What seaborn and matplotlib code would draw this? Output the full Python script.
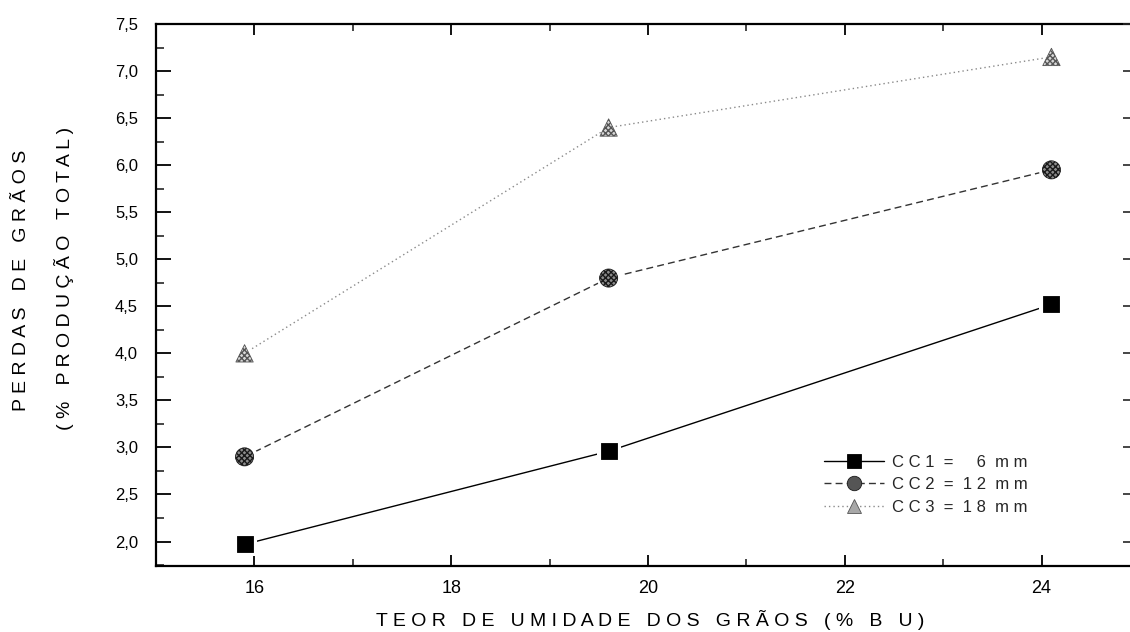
import matplotlib
matplotlib.use("Agg")
import matplotlib.pyplot as plt
import seaborn as sns
import pandas as pd
from matplotlib.ticker import MultipleLocator, FixedLocator, FuncFormatter
from matplotlib.lines import Line2D

# Grain moisture content (% wet basis) and grain losses (% of total yield)
umidade = [15.9, 19.6, 24.1]
cc1 = [1.97, 2.96, 4.52]
cc2 = [2.90, 4.80, 5.95]
cc3 = [4.00, 6.40, 7.15]
series_names = ["CC1", "CC2", "CC3"]
sieve_mm = ["6", "12", "18"]
x_ticks = [16, 18, 20, 22, 24]
y_ticks = [2.0, 2.5, 3.0, 3.5, 4.0, 4.5, 5.0, 5.5, 6.0, 6.5, 7.0, 7.5]
x_title = "TEOR DE UMIDADE DOS GRÃOS (% B U)"
y_title_1 = "PERDAS DE GRÃOS"
y_title_2 = "(% PRODUÇÃO TOTAL)"


def spaced(text, gap=1, word_gap=3):
    """Letter-spaced version of a caption."""
    return (" " * word_gap).join((" " * gap).join(w) for w in text.split(" "))


df = pd.DataFrame({
    "umidade": umidade * 3,
    "perdas": cc1 + cc2 + cc3,
    "serie": [s for s in series_names for _ in umidade],
})

sns.set_theme(style="ticks")
plt.rcParams["font.family"] = ["Liberation Sans", "DejaVu Sans"]

W, H = 1130, 632
fig = plt.figure(figsize=(W / 100, H / 100), dpi=100)
left, right, top, bottom = 156, 1140, 24, 566
ax = fig.add_axes([left / W, 1 - bottom / H, (right - left) / W, (bottom - top) / H])

styles = {
    "CC1": dict(color="black", ls="-", lw=1.0, marker="s", ms=12, face="black", hatch=None, leg_face="black"),
    "CC2": dict(color="#333333", ls=(0, (5, 3)), lw=1.0, marker="o", ms=13, face="#8c8c8c", hatch="xxxxxx", leg_face="#555555"),
    "CC3": dict(color="#8a8a8a", ls=(0, (1, 2.2)), lw=1.0, marker="^", ms=12.5, face="#d8d8d8", hatch="xxxxxx", leg_face="#a8a8a8"),
}
edge_cols = {"CC1": "black", "CC2": "#1a1a1a", "CC3": "#555555"}

handles = []
for name in series_names:
    st = styles[name]
    sub = df[df["serie"] == name]
    sns.lineplot(data=sub, x="umidade", y="perdas", ax=ax, color=st["color"],
                 linestyle=st["ls"], linewidth=st["lw"], legend=False, zorder=2)
    # white halo leaves a small gap between the line and the symbol
    ax.scatter(sub["umidade"], sub["perdas"], marker=st["marker"], s=(st["ms"] + 5) ** 2,
               color="white", linewidths=0, zorder=3)
    ax.scatter(sub["umidade"], sub["perdas"], marker=st["marker"], s=st["ms"] ** 2,
               facecolor=st["face"], edgecolor=edge_cols[name], hatch=st["hatch"],
               linewidths=0.6, zorder=4)
    handles.append(Line2D([], [], color=st["color"], linestyle=st["ls"], linewidth=st["lw"],
                          marker=st["marker"], markersize=st["ms"] * 0.8,
                          markerfacecolor=st["leg_face"], markeredgecolor=edge_cols[name],
                          markeredgewidth=0.6))

ax.set_xlim(15, 25)
ax.set_ylim(1.74, 7.5)
ax.xaxis.set_major_locator(FixedLocator(x_ticks))
ax.xaxis.set_minor_locator(MultipleLocator(1))
ax.yaxis.set_major_locator(FixedLocator(y_ticks))
ax.yaxis.set_minor_locator(MultipleLocator(0.25))
ax.yaxis.set_major_formatter(FuncFormatter(lambda v, p: f"{v:.1f}".replace(".", ",")))
ax.set_xlabel("")
ax.set_ylabel("")

for sp in ax.spines.values():
    sp.set_visible(True)
    sp.set_linewidth(1.6)
    sp.set_color("black")

ax.tick_params(axis="y", which="major", direction="in", length=11, width=1.3,
               labelsize=12, pad=13, colors="black", right=False)
ax.tick_params(axis="y", which="minor", direction="in", length=6, width=1.2, right=False)
ax.tick_params(axis="x", which="major", direction="in", length=8, width=1.3,
               labelsize=13, pad=10, colors="black", top=True)
ax.tick_params(axis="x", which="minor", direction="in", length=5, width=1.2, top=True)

# short inward ticks along the right edge
axr = ax.twinx()
axr.set_ylim(ax.get_ylim())
axr.yaxis.set_major_locator(MultipleLocator(0.5))
axr.tick_params(axis="y", direction="in", length=12, width=1.2, labelright=False)
for sp in axr.spines.values():
    sp.set_visible(False)

labels = []
for name, mm in zip(series_names, sieve_mm):
    size = " ".join(mm) if len(mm) > 1 else "   " + mm
    labels.append(f"{spaced(name)}  =  {size}  m m")

ax.legend(handles, labels, loc="upper left",
          bbox_to_anchor=((817 - left) / (right - left), 1 - (448 - top) / (bottom - top)),
          frameon=False, fontsize=12, handlelength=3.6, handletextpad=0.5,
          labelspacing=0.45, borderaxespad=0, numpoints=1)

fig.text(650 / W, 1 - 620 / H, spaced(x_title, gap=1, word_gap=3),
         ha="center", va="center", fontsize=14, color="black")
fig.text(22 / W, 1 - 280 / H, spaced(y_title_1, gap=1, word_gap=3), rotation=90,
         ha="center", va="center", fontsize=14, color="black")
fig.text(64 / W, 1 - 278 / H, spaced(y_title_2, gap=1, word_gap=3), rotation=90,
         ha="center", va="center", fontsize=14, color="black")

fig.savefig("out.png", dpi=100, facecolor="white")
